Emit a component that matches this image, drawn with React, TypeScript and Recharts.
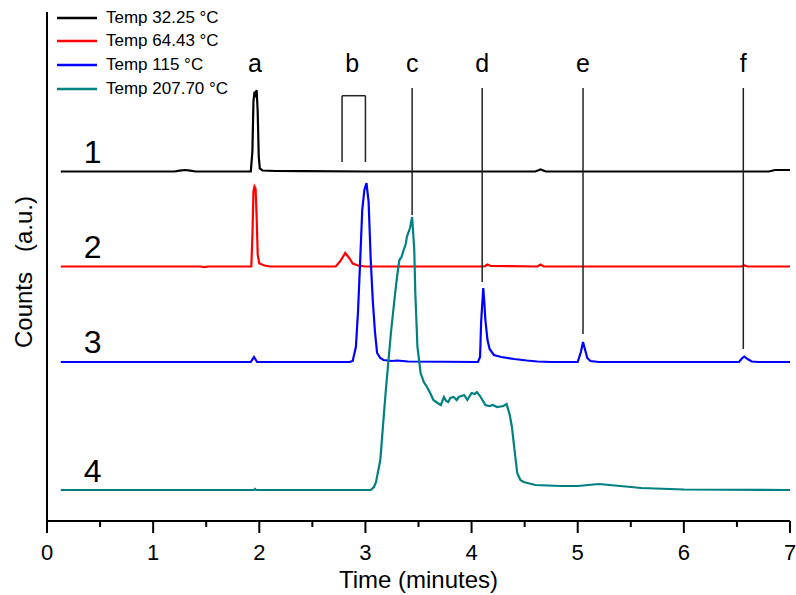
import React from 'react';
import {
  LineChart,
  Line,
  XAxis,
  YAxis,
  Legend,
  Label,
  ReferenceLine,
  ReferenceDot,
} from 'recharts';

const FONT = '"Liberation Sans", Arial, sans-serif';

const seriesNames = ['Temp 32.25 °C', 'Temp 64.43 °C', 'Temp 115 °C', 'Temp 207.70 °C'];
const seriesColors = ['#000000', '#ff0000', '#0000ff', '#008080'];
// vertical offset of each trace (Origin-style stacking)
const seriesOffsets = [349.5, 254.5, 159, 31];
const traceLabels = ['1', '2', '3', '4'];
const traceLabelY = [357.7, 263, 168, 39.3];

// [time, counts above baseline]
const trace1: [number, number][] = [
  [0.13, 0], [1.2, 0], [1.25, 0.8], [1.3, 1.5], [1.35, 0.8], [1.4, 0], [1.92, 0],
  [1.935, 20], [1.945, 70], [1.955, 80], [1.965, 77], [1.975, 81.5], [1.985, 60],
  [1.995, 15], [2.005, 3], [2.03, 1], [2.15, 0.5], [2.4, 0.3], [3.0, 0], [4.6, 0],
  [4.65, 2], [4.7, 0], [6.8, 0], [6.86, 1.5], [7.0, 1.5],
];
const trace2: [number, number][] = [
  [0.13, 0], [1.45, 0], [1.48, -0.7], [1.52, 0], [1.925, 0], [1.935, 30], [1.945, 75],
  [1.955, 80], [1.965, 78], [1.975, 50], [1.985, 12], [2.0, 3], [2.05, 1], [2.1, 0],
  [2.72, 0], [2.76, 5], [2.81, 13.5], [2.85, 8], [2.88, 3], [2.93, 1], [3.0, 0],
  [4.12, 0], [4.15, 2], [4.18, 0.5], [4.62, 0], [4.65, 2], [4.68, 0], [6.54, 0],
  [6.57, 1], [6.6, 0], [7.0, 0],
];
const trace3: [number, number][] = [
  [0.13, 0], [1.5, 0], [1.92, 0], [1.95, 5], [1.98, 0], [2.85, 0], [2.88, 1], [2.91, 15],
  [2.93, 50], [2.95, 100], [2.97, 152], [2.99, 172], [3.01, 179], [3.03, 160],
  [3.05, 102], [3.07, 60], [3.09, 30], [3.11, 9], [3.14, 4], [3.17, 2], [3.25, 1],
  [3.3, 1.5], [3.4, 0.5], [4.06, 0], [4.08, 5], [4.09, 40], [4.11, 74], [4.12, 60],
  [4.13, 42], [4.15, 22], [4.17, 13], [4.21, 7], [4.28, 5], [4.4, 3], [4.52, 1.5],
  [4.62, 0.5], [4.75, 0], [5.0, 0], [5.03, 10], [5.05, 20], [5.07, 12], [5.09, 4],
  [5.12, 1], [5.2, 0], [6.52, 0], [6.55, 4], [6.57, 5.5], [6.6, 3], [6.64, 0.5],
  [6.7, 0], [7.0, 0],
];
const trace4: [number, number][] = [
  [0.13, 0], [1.95, 0], [1.96, 1], [1.97, 0], [3.05, 0], [3.08, 3], [3.1, 8],
  [3.14, 30], [3.19, 97], [3.24, 157], [3.28, 197], [3.3, 215], [3.32, 230], [3.34, 233],
  [3.36, 240], [3.38, 246], [3.39, 253], [3.42, 262], [3.44, 273], [3.46, 240],
  [3.47, 197], [3.49, 143], [3.52, 117], [3.55, 108], [3.58, 103], [3.61, 97],
  [3.64, 90], [3.68, 87], [3.71, 85], [3.74, 93], [3.76, 89], [3.78, 88], [3.8, 92],
  [3.83, 93], [3.86, 90], [3.88, 93], [3.93, 95], [3.96, 90], [4.0, 97], [4.03, 96],
  [4.05, 98], [4.08, 94], [4.13, 85], [4.17, 84], [4.2, 85], [4.24, 83], [4.3, 84],
  [4.33, 86], [4.36, 75], [4.38, 63], [4.41, 35], [4.43, 17], [4.46, 10], [4.49, 8],
  [4.6, 5], [4.84, 4], [5.0, 4], [5.1, 5], [5.2, 6], [5.3, 5], [5.6, 2], [6.0, 0.5],
  [7.0, 0],
];
const traces = [trace1, trace2, trace3, trace4];

const xTicks = [0, 0.5, 1, 1.5, 2, 2.5, 3, 3.5, 4, 4.5, 5, 5.5, 6, 6.5, 7];

// peak markers: letter, x position, bottom end of the marker line
const markerLetters = ['a', 'b', 'c', 'd', 'e', 'f'];
const markerLetterX = [1.96, 2.875, 3.44, 4.1, 5.05, 6.56];
const markerLineX = [3.44, 4.1, 5.05, 6.56];
const markerLineBottom = [306, 239, 187, 172];
const markerTop = 433;
const letterY = 449;
const bracketX = [2.78, 3.0];
const bracketY = [359, 425.3];

const TimeTick = (props: any) => {
  const { x, y, payload } = props;
  const major = Number.isInteger(payload.value);
  return (
    <g>
      <line x1={x} x2={x} y1={y} y2={y + (major ? 12 : 6)} stroke="#000" strokeWidth={2} />
      {major && (
        <text x={x} y={y + 39} textAnchor="middle" fontSize={22} fontFamily={FONT} fill="#000">
          {payload.value}
        </text>
      )}
    </g>
  );
};

const LegendBox = (props: any) => {
  const items = [...(props.payload || [])].sort(
    (a: any, b: any) => seriesNames.indexOf(a.value) - seriesNames.indexOf(b.value)
  );
  return (
    <div style={{ fontFamily: FONT, fontSize: 17, color: '#000' }}>
      {items.map((it: any, i: number) => (
        <div key={i} style={{ height: 23.67, display: 'flex', alignItems: 'center', whiteSpace: 'nowrap' }}>
          <svg width={40} height={4} style={{ marginRight: 9 }}>
            <line x1={0} x2={40} y1={2} y2={2} stroke={it.color} strokeWidth={2.5} />
          </svg>
          <span>{it.value}</span>
        </div>
      ))}
    </div>
  );
};

const letterShape = (letter: string) => (p: any) => (
  <text x={p.cx} y={p.cy} textAnchor="middle" fontSize={25} fontFamily={FONT} fill="#000">
    {letter}
  </text>
);

export default function App() {
  return (
    <div style={{ position: 'absolute', left: 0, top: 0 }}>
      <LineChart width={796} height={595} margin={{ top: 12, right: 6, bottom: 0, left: 1 }}>
        <XAxis
          type="number"
          dataKey="t"
          domain={[0, 7]}
          ticks={xTicks}
          interval={0}
          height={74}
          tickSize={0}
          tickMargin={0}
          tickLine={false}
          tick={<TimeTick />}
          axisLine={{ stroke: '#000', strokeWidth: 2 }}
          allowDataOverflow
        >
          <Label
            content={(p: any) => {
              const vb = p.viewBox;
              return (
                <text x={vb.x + vb.width / 2} y={vb.y + 67} textAnchor="middle" fontSize={24} fontFamily={FONT} fill="#000">
                  Time (minutes)
                </text>
              );
            }}
          />
        </XAxis>
        <YAxis
          type="number"
          domain={[0, 509]}
          width={46}
          tick={false}
          tickLine={false}
          axisLine={{ stroke: '#000', strokeWidth: 2 }}
          allowDataOverflow
        >
          <Label
            content={(p: any) => {
              const vb = p.viewBox;
              const cx = vb.x + 31;
              const cy = vb.y + vb.height / 2 + 5.5;
              return (
                <text
                  x={cx}
                  y={cy}
                  transform={`rotate(-90 ${cx} ${cy})`}
                  textAnchor="middle"
                  fontSize={24}
                  fontFamily={FONT}
                  fill="#000"
                  xmlSpace="preserve"
                  style={{ whiteSpace: 'pre' }}
                >
                  {'Counts   (a.u.)'}
                </text>
              );
            }}
          />
        </YAxis>
        <Legend
          layout="vertical"
          align="center"
          verticalAlign="middle"
          content={<LegendBox />}
          wrapperStyle={{ left: 57, top: 6, width: 'auto' }}
        />
        {traces.map((tr, i) => (
          <Line
            key={seriesNames[i]}
            name={seriesNames[i]}
            data={tr.map(([t, c]) => ({ t, v: c + seriesOffsets[i] }))}
            dataKey="v"
            type="linear"
            stroke={seriesColors[i]}
            strokeWidth={2.2}
            dot={false}
            activeDot={false}
            isAnimationActive={false}
          />
        ))}
        {markerLineX.map((x, i) => (
          <ReferenceLine
            key={`m${i}`}
            segment={[{ x, y: markerTop }, { x, y: markerLineBottom[i] }]}
            stroke="#222"
            strokeWidth={1.5}
          />
        ))}
        <ReferenceLine segment={[{ x: bracketX[0], y: bracketY[0] }, { x: bracketX[0], y: bracketY[1] }]} stroke="#222" strokeWidth={1.5} />
        <ReferenceLine segment={[{ x: bracketX[1], y: bracketY[0] }, { x: bracketX[1], y: bracketY[1] }]} stroke="#222" strokeWidth={1.5} />
        <ReferenceLine segment={[{ x: bracketX[0], y: bracketY[1] }, { x: bracketX[1], y: bracketY[1] }]} stroke="#222" strokeWidth={1.5} />
        {markerLetters.map((l, i) => (
          <ReferenceDot key={l} x={markerLetterX[i]} y={letterY} r={0} shape={letterShape(l)} />
        ))}
        {traceLabels.map((l, i) => (
          <ReferenceDot
            key={`n${l}`}
            x={0.43}
            y={traceLabelY[i]}
            r={0}
            shape={(p: any) => (
              <text x={p.cx} y={p.cy} textAnchor="middle" fontSize={32} fontFamily={FONT} fill="#000">
                {l}
              </text>
            )}
          />
        ))}
      </LineChart>
    </div>
  );
}
